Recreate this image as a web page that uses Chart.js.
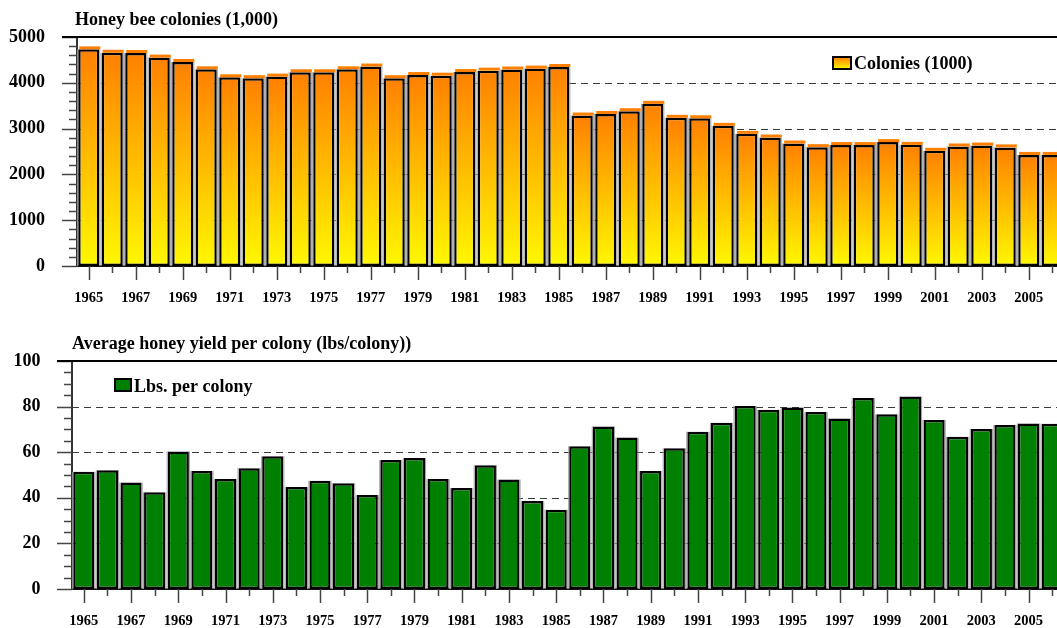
<!DOCTYPE html>
<html>
<head>
<meta charset="utf-8">
<script src="https://cdn.jsdelivr.net/npm/chart.js@4.4.0/dist/chart.umd.min.js"></script>
<style>
  html, body { margin: 0; padding: 0; background: #fff; overflow: hidden; }
  #wrap { position: relative; width: 1057px; height: 628px; overflow: hidden; }
  #topChart { position: absolute; left: 0; top: 0; }
  #botChart { position: absolute; left: 0; top: 315px; }
</style>
</head>
<body>
<div id="wrap">
  <canvas id="topChart" width="1066" height="315"></canvas>
  <canvas id="botChart" width="1066" height="313"></canvas>
</div>
<script>
/* ================= DATA ================= */
const years = [
  "1965","1966","1967","1968","1969","1970","1971","1972","1973","1974",
  "1975","1976","1977","1978","1979","1980","1981","1982","1983","1984",
  "1985","1986","1987","1988","1989","1990","1991","1992","1993","1994",
  "1995","1996","1997","1998","1999","2000","2001","2002","2003","2004",
  "2005","2006"
];

// honey bee colonies, 1000s
const colonies = [
  4730, 4655, 4650, 4550, 4455, 4295, 4120, 4100, 4135, 4230,
  4230, 4295, 4355, 4100, 4170, 4155, 4235, 4265, 4290, 4310,
  4345, 3285, 3320, 3380, 3540, 3235, 3225, 3060, 2885, 2805,
  2675, 2595, 2640, 2640, 2705, 2645, 2515, 2610, 2630, 2590,
  2425, 2425
];

// average yield, lbs per colony
const yields = [
  51.4, 52.1, 46.7, 42.4, 60.3, 51.8, 48.2, 53.0, 58.2, 44.7,
  47.5, 46.4, 41.2, 56.6, 57.5, 48.2, 44.3, 54.3, 48.0, 38.6,
  34.8, 62.6, 71.3, 66.4, 51.7, 61.7, 69.0, 72.9, 80.3, 78.6,
  79.6, 77.6, 74.8, 83.8, 76.6, 84.4, 74.1, 66.8, 70.2, 71.9,
  72.6, 72.5
];

const topTitle = "Honey bee colonies (1,000)";
const topLegend = "Colonies (1000)";
const botTitle = "Average honey yield per colony (lbs/colony))";
const botLegend = "Lbs. per colony";

const SERIF = "'Liberation Serif', 'Times New Roman', serif";

/* =========================
   HELPERS
========================= */
function orangeGradient(c, top, base) {
    const g = c.createLinearGradient(0, top, 0, base);
    g.addColorStop(0, "#FF8000");
    g.addColorStop(1, "#FFF800");
    return g;
}

// no label overhang, so the chart area stays where padding puts it
function noOverhang(s) {
    s.paddingTop = 0;
    s.paddingBottom = 0;
    s.paddingLeft = 0;
    s.paddingRight = 0;
}

/* =========================
   DECOR PLUGIN
   grid, tick marks, frame, title, legend
========================= */
const decor = {
    id: "decor",

    beforeDatasetsDraw(chart, args, o) {
        const { ctx, chartArea: a, scales: { y } } = chart;
        ctx.save();
        ctx.strokeStyle = "#3a3a3a";
        ctx.lineWidth = 1;
        ctx.setLineDash([7, 5]);
        for (let v = o.major; v < y.max; v += o.major) {
            const py = Math.round(y.getPixelForValue(v)) + 0.5;
            ctx.beginPath();
            ctx.moveTo(a.left, py);
            ctx.lineTo(a.right, py);
            ctx.stroke();
        }
        ctx.restore();
    },

    afterDatasetsDraw(chart, args, o) {
        const { ctx, chartArea: a, scales: { x, y } } = chart;
        const meta = chart.getDatasetMeta(0);
        ctx.save();

        // bar shadow + top cap
        meta.data.forEach(bar => {
            const w = bar.width;
            const l = bar.x - w / 2;
            ctx.fillStyle = "#a0a0a0";
            ctx.fillRect(l + w, bar.y, 1, bar.base - bar.y);
            ctx.fillRect(l - 1, bar.y, 1, bar.base - bar.y);
            if (o.cap) {
                ctx.fillStyle = o.cap;
                ctx.fillRect(l + 1, bar.y - 3, w, 3);
            }
        });

        // y tick marks
        ctx.strokeStyle = "#444";
        ctx.lineWidth = 1.5;
        for (let v = 0; v <= y.max + 0.001; v += o.minor) {
            const isMajor = Math.abs(v / o.major - Math.round(v / o.major)) < 1e-6;
            const py = Math.round(y.getPixelForValue(v)) + 0.5;
            ctx.beginPath();
            ctx.moveTo(a.left, py);
            ctx.lineTo(a.left - (isMajor ? 15 : 8), py);
            ctx.stroke();
        }

        // x tick marks
        years.forEach((_, i) => {
            const px = Math.round(x.getPixelForValue(i)) + 0.5;
            ctx.beginPath();
            ctx.moveTo(px, a.bottom);
            ctx.lineTo(px, a.bottom + (i % 2 === 0 ? 14 : 7));
            ctx.stroke();
        });

        // top frame line
        ctx.strokeStyle = "#000";
        ctx.lineWidth = 2.2;
        ctx.beginPath();
        ctx.moveTo(a.left - 15, a.top);
        ctx.lineTo(chart.width, a.top);
        ctx.stroke();

        // title
        ctx.fillStyle = "#000";
        ctx.font = "bold 18px " + SERIF;
        ctx.textBaseline = "alphabetic";
        ctx.textAlign = "left";
        ctx.fillText(o.title, o.titleX, o.titleY);

        // legend
        const b = o.legendBox;
        ctx.fillStyle = o.legendFill === "gradient"
            ? orangeGradient(ctx, b[1], b[1] + b[3])
            : o.legendFill;
        ctx.fillRect(b[0], b[1], b[2], b[3]);
        ctx.strokeStyle = "#000";
        ctx.lineWidth = 2;
        ctx.strokeRect(b[0], b[1], b[2], b[3]);
        ctx.fillStyle = "#000";
        ctx.fillText(o.legend, b[0] + b[2] + 3, o.legendY);

        ctx.restore();
    }
};

/* =========================
   DRAW ONE PANEL
========================= */
function drawPanel(canvasId, values, cfg) {
    const ctx = document.getElementById(canvasId).getContext("2d");

    return new Chart(ctx, {
        type: "bar",
        data: {
            labels: years,
            datasets: [{
                data: values,
                backgroundColor: cfg.fill,
                borderColor: "#000",
                borderWidth: 2.5,
                borderSkipped: false,
                categoryPercentage: 1,
                barPercentage: 0.9
            }]
        },
        options: {
            responsive: false,
            animation: false,
            devicePixelRatio: 1,
            layout: { padding: { top: cfg.padTop, left: 0, right: 2, bottom: 0 } },
            plugins: {
                legend: { display: false },
                tooltip: { enabled: false },
                decor: cfg.decor
            },
            scales: {
                x: {
                    grid: { display: false, drawTicks: false },
                    border: { display: true, color: "#111", width: 2 },
                    ticks: {
                        autoSkip: false,
                        maxRotation: 0,
                        padding: 24,
                        color: "#000",
                        font: { family: SERIF, size: 14.5, weight: "bold" },
                        callback: (v, i) => (i % 2 === 0 ? years[i] : "")
                    },
                    afterFit: s => { s.height = cfg.xHeight; noOverhang(s); }
                },
                y: {
                    min: 0,
                    max: cfg.max,
                    grid: { display: false, drawTicks: false },
                    border: { display: true, color: "#333", width: 2 },
                    ticks: {
                        stepSize: cfg.decor.major,
                        padding: cfg.yPad,
                        color: "#000",
                        font: { family: SERIF, size: 18, weight: "bold" },
                        callback: v => String(v)
                    },
                    afterFit: s => { s.width = cfg.yWidth; noOverhang(s); }
                }
            }
        },
        plugins: [decor]
    });
}

/* =========================
   ENTRY
========================= */
drawPanel("topChart", colonies, {
    max: 5000,
    padTop: 37,
    xHeight: 49,
    yWidth: 77,
    yPad: 32,
    fill: c => {
        const y = c.chart.scales.y;
        if (c.type !== "data" || !y) return "#FFB000";
        const top = y.getPixelForValue(c.raw);
        const base = y.getPixelForValue(0);
        if (!Number.isFinite(top) || !Number.isFinite(base)) return "#FFB000";
        return orangeGradient(c.chart.ctx, top, base);
    },
    decor: {
        major: 1000,
        minor: 200,
        cap: "#FF8000",
        title: topTitle,
        titleX: 75,
        titleY: 25,
        legend: topLegend,
        legendBox: [833, 57, 18, 12],
        legendFill: "gradient",
        legendY: 69
    }
});

drawPanel("botChart", yields, {
    max: 100,
    padTop: 46,
    xHeight: 39,
    yWidth: 72,
    yPad: 31.5,
    fill: "#008000",
    decor: {
        major: 20,
        minor: 5,
        cap: null,
        title: botTitle,
        titleX: 72,
        titleY: 34,
        legend: botLegend,
        legendBox: [115, 64, 16, 12],
        legendFill: "#008000",
        legendY: 77
    }
});
</script>
</body>
</html>
